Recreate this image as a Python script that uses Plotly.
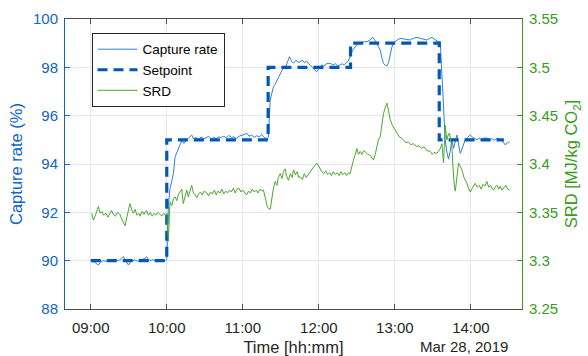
import pandas as pd
import plotly.graph_objects as go

DAY = "2019-03-28 09:00:00"

# Capture rate (%) — minutes after 09:00
cap_min = [0, 2, 4, 6, 8, 10, 12, 14, 16, 18, 20, 22, 24, 25.7, 27, 28.5, 29.7, 31, 33, 35,
           37, 39, 41, 43, 44, 45.5, 47, 49, 51, 53, 55, 57, 59, 60, 61.3, 62.6, 64, 65.2, 66.6, 68,
           70.5, 72, 73.5, 75.8, 77.5, 79.7, 81, 83, 85, 87, 89, 91, 93, 95, 97, 99, 101, 103, 105, 107,
           109, 111, 113, 115, 117, 119, 121, 123.2, 125, 127, 129, 131, 133, 135, 137, 139, 140.2, 141.6, 143, 144.2,
           145.5, 147.5, 149.5, 151, 152.1, 153.4, 155, 156.8, 158.5, 160, 162, 163.5, 165.2, 167, 168.5, 170.5, 172, 173.1,
           175, 176.5, 178.4, 180, 182.4, 184, 186, 188.9, 191, 193, 195, 196.8, 198.5, 200, 201.6, 203, 204.7, 206.5,
           208.7, 210.5, 212.6, 215, 217.9, 220, 222.6, 224.5, 225.8, 227, 228.4, 229.7, 231, 232.5, 233.7, 235, 236.3, 237.7,
           238.9, 241, 244.2, 247, 249.5, 252.1, 254.5, 257.4, 260, 262.5, 265.3, 267.5, 269.2, 271, 272.7, 274.4, 275.8, 277.1,
           278.4, 279.7, 281, 282.3, 283.5, 285, 286.3, 287.7, 289, 290.3, 291.6, 293.5, 295.5, 297.5, 299.5, 301.5, 303, 304.7,
           306.5, 308.5, 310.5, 312.6, 314.5, 316.5, 318.5, 320.5, 323.1, 325, 327.1, 328.8, 330.5]
cap_val = [90.03, 89.98, 89.9, 89.82, 89.95, 90.0, 89.97, 90.02, 90.0, 89.96, 90.03, 90.0, 90.08, 90.17, 90.05, 89.9, 89.82, 89.92, 90.0, 90.03,
           89.97, 90.02, 90.06, 90.1, 90.17, 90.05, 90.0, 90.04, 90.0, 90.02, 89.98, 90.01, 90.0, 90.05, 92.3, 93.0, 93.3, 93.6, 94.3, 94.5,
           94.8, 94.95, 94.85, 95.0, 95.1, 95.2, 95.05, 95.1, 95.0, 95.12, 95.05, 95.08, 95.15, 95.02, 95.1, 95.05, 95.12, 95.1, 95.15, 95.08,
           95.18, 95.1, 95.12, 95.05, 95.15, 95.2, 95.22, 95.27, 95.15, 95.2, 95.1, 95.17, 95.12, 95.22, 95.1, 95.05, 95.1, 96.65, 96.9, 97.2,
           97.3, 97.5, 97.7, 97.9, 98.0, 97.96, 98.2, 98.44, 98.25, 98.17, 98.3, 98.2, 98.23, 98.3, 98.2, 98.25, 98.15, 98.1,
           98.0, 97.9, 97.82, 97.95, 98.1, 98.05, 98.15, 98.17, 98.1, 98.15, 98.05, 98.1, 98.15, 98.1, 98.17, 98.25, 98.44, 98.7,
           98.85, 98.95, 99.0, 99.05, 99.06, 99.12, 99.24, 99.1, 99.0, 98.85, 98.72, 98.4, 98.17, 98.08, 98.06, 98.2, 98.58, 98.85,
           99.0, 99.1, 99.2, 99.18, 99.15, 99.13, 99.2, 99.24, 99.2, 99.17, 99.13, 99.2, 99.24, 99.17, 99.12, 99.06, 99.06, 97.5,
           95.96, 95.0, 94.5, 94.2, 94.5, 95.0, 94.65, 94.9, 95.2, 94.8, 94.44, 94.7, 95.0, 95.1, 95.2, 95.1, 95.05, 95.0,
           95.07, 95.0, 95.08, 95.07, 95.0, 95.05, 94.98, 95.06, 95.0, 94.95, 94.79, 94.88, 94.92]

# Capture-rate setpoint (%), held until the next change
sp_min = [0, 60, 140, 205, 275, 326]
sp_val = [90, 95, 98, 99, 95, 95]

# Specific reboiler duty [MJ/kg CO2]
srd_min = [0.8, 2.1, 3.5, 5, 6, 7.5, 9, 10, 12, 13.5, 15, 16.5, 17.8, 19.5, 21, 23, 24.5, 25.7, 27.1, 28.5,
           30, 31, 32.5, 33.6, 35, 36.5, 38, 39, 40.5, 42, 44, 45.5, 47, 48.5, 50, 51.5, 53, 54.5, 56, 57.5,
           59, 60, 60.7, 61.3, 62, 62.6, 64, 65.2, 66.6, 67.9, 69, 70.5, 71.8, 73, 74, 75.8, 77, 78.5, 79.7, 81,
           82.5, 83.7, 85, 86.5, 88, 89.5, 91.6, 93, 94.5, 96, 97.5, 99, 100.5, 102, 103.5, 105, 106.5, 108, 109.5, 111,
           112.6, 114, 115.5, 117, 118.5, 120, 121.5, 123, 124.5, 126, 127.5, 129, 130.5, 132, 133.5, 135, 136.3, 137.5, 138.5, 139.5,
           141.6, 143, 144.2, 145.5, 147, 148, 149.5, 151, 152, 153.4, 154.5, 156, 157.5, 159, 160, 161.5, 163, 164, 165.2, 167,
           168.5, 170, 171.5, 173, 174.5, 176, 178.4, 180, 182.4, 184, 185.5, 187, 188.5, 190, 191.5, 193, 194.5, 196, 197.5, 199,
           200.5, 202, 203.5, 204.7, 206, 207.3, 208.5, 210, 211.2, 212.6, 214, 215.5, 217, 218.5, 220.5, 222, 223.1, 224.5, 225.8, 227,
           228.4, 229.7, 231, 232.3, 233.7, 235, 236.3, 238, 239.8, 241.6, 243.5, 245, 246.8, 248.5, 250.5, 252.5, 254.5, 257.4, 259, 261,
           263, 265, 267.9, 269.5, 271, 273.2, 274.5, 275.8, 277.1, 278, 278.4, 279.2, 279.7, 280.5, 281, 282, 283.1, 284, 285, 285.7,
           286.3, 287, 287.7, 289, 290.2, 291.5, 292.9, 294.5, 296, 296.9, 298, 299.5, 301.5, 303.4, 305, 306.5, 308, 309.5, 311, 312.6,
           314, 315.5, 317, 317.8, 319, 320.5, 322, 323.1, 324.5, 326, 327.5, 329, 330.5]
srd_val = [3.349, 3.342, 3.346, 3.352, 3.356, 3.349, 3.351, 3.347, 3.349, 3.345, 3.348, 3.352, 3.348, 3.346, 3.35, 3.348, 3.343, 3.339, 3.336, 3.345,
           3.354, 3.359, 3.352, 3.349, 3.353, 3.347, 3.349, 3.346, 3.351, 3.348, 3.352, 3.347, 3.35, 3.346, 3.349, 3.347, 3.35, 3.348, 3.346, 3.349,
           3.347, 3.349, 3.33, 3.32, 3.345, 3.361, 3.357, 3.364, 3.366, 3.362, 3.368, 3.371, 3.374, 3.359, 3.365, 3.373, 3.366, 3.372, 3.378, 3.37,
           3.368, 3.365, 3.369, 3.371, 3.368, 3.372, 3.37, 3.367, 3.371, 3.369, 3.373, 3.368, 3.372, 3.37, 3.374, 3.369, 3.372, 3.37, 3.373, 3.371,
           3.375, 3.37, 3.374, 3.375, 3.371, 3.373, 3.37, 3.368, 3.372, 3.37, 3.374, 3.371, 3.373, 3.37, 3.374, 3.372, 3.373, 3.365, 3.36, 3.355,
           3.353, 3.368, 3.375, 3.382, 3.378, 3.386, 3.39, 3.385, 3.392, 3.395, 3.388, 3.383, 3.39, 3.386, 3.394, 3.389, 3.392, 3.386, 3.387, 3.384,
           3.39, 3.386, 3.389, 3.392, 3.394, 3.397, 3.401, 3.397, 3.392, 3.39, 3.393, 3.389, 3.391, 3.388, 3.392, 3.389, 3.391, 3.388, 3.392, 3.389,
           3.391, 3.388, 3.391, 3.39, 3.398, 3.404, 3.409, 3.416, 3.41, 3.413, 3.41, 3.414, 3.412, 3.41, 3.409, 3.406, 3.404, 3.41, 3.42, 3.425,
           3.428, 3.44, 3.452, 3.458, 3.463, 3.455, 3.446, 3.44, 3.436, 3.432, 3.428, 3.427, 3.425, 3.422, 3.423, 3.42, 3.421, 3.418, 3.419, 3.416,
           3.418, 3.414, 3.413, 3.41, 3.412, 3.411, 3.414, 3.416, 3.421, 3.41, 3.401, 3.425, 3.44, 3.43, 3.425, 3.43, 3.432, 3.425, 3.418, 3.4,
           3.383, 3.376, 3.372, 3.39, 3.401, 3.398, 3.394, 3.386, 3.382, 3.38, 3.375, 3.371, 3.376, 3.38, 3.376, 3.378, 3.374, 3.379, 3.377, 3.382,
           3.376, 3.378, 3.374, 3.373, 3.376, 3.378, 3.374, 3.377, 3.373, 3.375, 3.378, 3.374, 3.373]

cap_ticks = [88, 90, 92, 94, 96, 98, 100]
srd_ticks = [3.25, 3.3, 3.35, 3.4, 3.45, 3.5, 3.55]
srd_tick_text = ["3.25", "3.3", "3.35", "3.4", "3.45", "3.5", "3.55"]
hour_ticks = ["09:00", "10:00", "11:00", "12:00", "13:00", "14:00"]

BLUE_AX = "#0f66c2"
GREEN_AX = "#3a9a1c"
GRID = "#e3e8ee"
FONT = "Liberation Sans, Arial, sans-serif"

t0 = pd.Timestamp(DAY)


def to_time(minutes):
    return [t0 + pd.Timedelta(minutes=m) for m in minutes]


fig = go.Figure()
fig.add_trace(go.Scatter(x=to_time(cap_min), y=cap_val, mode="lines", name="Capture rate",
                         line=dict(color="#2f80d6", width=1)))
fig.add_trace(go.Scatter(x=to_time(sp_min), y=sp_val, mode="lines", name="Setpoint",
                         line=dict(color="#0057b8", width=3.2, dash="10px,6px", shape="hv")))
fig.add_trace(go.Scatter(x=to_time(srd_min), y=srd_val, mode="lines", name="SRD", yaxis="y2",
                         line=dict(color="#4aa82e", width=1)))

tick_vals = [pd.Timestamp("2019-03-28 " + h) for h in hour_ticks]

fig.update_layout(
    width=588, height=356,
    margin=dict(l=65, r=66, t=19, b=47),
    paper_bgcolor="white", plot_bgcolor="white",
    font=dict(family=FONT, size=15, color="#262626"),
    showlegend=True,
    legend=dict(x=0.058, y=0.952, xanchor="left", yanchor="top",
                bgcolor="white", bordercolor="#262626", borderwidth=1,
                font=dict(size=13.5, color="#000000"),
                tracegroupgap=0, itemwidth=40),
    xaxis=dict(
        type="date", automargin=False,
        range=[t0 - pd.Timedelta(minutes=20.3), t0 + pd.Timedelta(minutes=340.3)],
        tickvals=tick_vals, ticktext=hour_ticks,
        ticks="inside", ticklen=5, tickcolor="#4d4d4d",
        showline=True, linecolor="#4d4d4d", linewidth=1, mirror="ticks",
        showgrid=True, gridcolor=GRID, gridwidth=1,
        zeroline=False,
        tickfont=dict(size=15, color="#262626"),
        ticklabelstandoff=5,
        title=dict(text="Time [hh:mm]", font=dict(size=16.5, color="#262626"), standoff=14),
    ),
    yaxis=dict(
        range=[88, 100], tickvals=cap_ticks, automargin=False,
        ticks="inside", ticklen=5, tickcolor=BLUE_AX,
        showline=True, linecolor=BLUE_AX, linewidth=1,
        showgrid=True, gridcolor=GRID, gridwidth=1,
        zeroline=False,
        tickfont=dict(size=15, color=BLUE_AX),
        ticklabelstandoff=3,
        title=dict(text="Capture rate (%)", font=dict(size=16.5, color=BLUE_AX), standoff=6),
    ),
    yaxis2=dict(
        overlaying="y", side="right", automargin=False,
        range=[3.25, 3.55], tickvals=srd_ticks, ticktext=srd_tick_text,
        ticks="inside", ticklen=5, tickcolor=GREEN_AX,
        showline=True, linecolor=GREEN_AX, linewidth=1,
        showgrid=False, zeroline=False,
        tickfont=dict(size=15, color=GREEN_AX),
        ticklabelstandoff=3,
        title=dict(text="SRD [MJ/kg CO<sub>2</sub>]", font=dict(size=16.5, color=GREEN_AX), standoff=8),
    ),
    annotations=[
        dict(text="Mar 28, 2019", xref="paper", yref="paper", x=0.973, y=0, xanchor="right",
             yanchor="top", yshift=-27, showarrow=False, font=dict(size=15, color="#262626")),
    ],
)

fig.write_html("out.html")
